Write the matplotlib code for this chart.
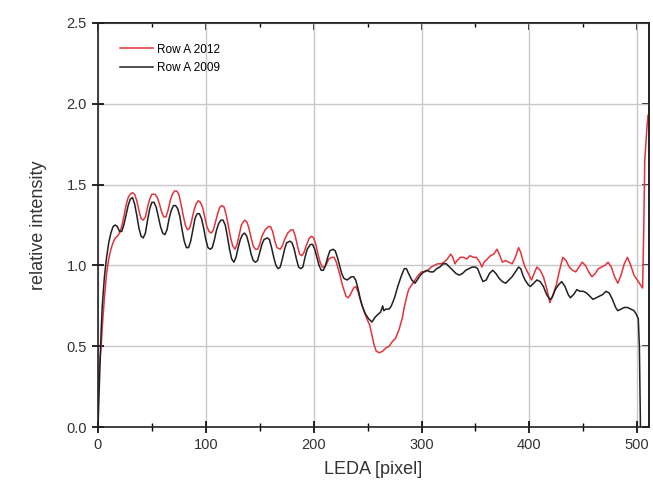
import matplotlib
matplotlib.use("Agg")
import matplotlib.pyplot as plt
from matplotlib.ticker import MultipleLocator, FormatStrFormatter, NullFormatter

plt.rcParams['font.family'] = ['Liberation Sans', 'DejaVu Sans']

# Row A 2009 (black)
x_2009 = [0, 1, 2, 3, 4, 6, 8, 10, 12, 14, 16, 18, 20, 22, 24, 26, 28, 30, 32, 34, 36, 38, 40, 42, 44, 46, 48,
          50, 52, 54, 56, 58, 60, 62, 64, 66, 68, 70, 72, 74, 76, 78, 80, 82, 84, 86, 88, 90, 92, 94, 96, 98,
          100, 102, 104, 106, 108, 110, 112, 114, 116, 118, 120, 122, 124, 126, 128, 130, 132, 134, 136, 138,
          140, 142, 144, 146, 148, 150, 152, 154, 157, 159, 161, 163, 165, 167, 169, 171, 173, 175, 178, 180,
          182, 184, 186, 188, 190, 192, 194, 197, 199, 201, 203, 205, 207, 209, 211, 213, 215, 218, 220, 222,
          224, 226, 228, 231, 233, 235, 237, 239, 241, 243, 245, 248, 251, 254, 257, 260, 262, 264, 265, 267,
          270, 272, 275, 278, 281, 284, 286, 288, 291, 294, 296, 299, 302, 305, 308, 311, 314, 317, 320, 323,
          326, 329, 332, 335, 338, 341, 344, 347, 350, 352, 355, 357, 360, 363, 366, 369, 372, 375, 378, 381,
          384, 387, 390, 392, 394, 396, 399, 401, 404, 407, 410, 413, 416, 419, 421, 424, 427, 430, 433, 436,
          438, 441, 444, 447, 450, 453, 456, 459, 462, 465, 468, 471, 474, 477, 480, 482, 485, 488, 491, 494,
          497, 499, 501, 502, 503]
y_2009 = [0.0, 0.2, 0.42, 0.6, 0.75, 0.93, 1.05, 1.14, 1.2, 1.24, 1.25, 1.24, 1.21, 1.21, 1.25, 1.31, 1.37, 1.41,
          1.42, 1.38, 1.31, 1.23, 1.18, 1.17, 1.2, 1.28, 1.35, 1.39, 1.39, 1.36, 1.3, 1.24, 1.2, 1.19, 1.22,
          1.29, 1.34, 1.37, 1.37, 1.35, 1.3, 1.22, 1.15, 1.11, 1.11, 1.15, 1.22, 1.29, 1.32, 1.32, 1.29, 1.23,
          1.16, 1.11, 1.10, 1.11, 1.16, 1.22, 1.26, 1.28, 1.28, 1.25, 1.18, 1.1, 1.04, 1.02, 1.05, 1.11, 1.16,
          1.19, 1.2, 1.18, 1.13, 1.07, 1.03, 1.02, 1.03, 1.08, 1.13, 1.16, 1.17, 1.16, 1.11, 1.05, 1.0, 0.98,
          0.99, 1.04, 1.1, 1.14, 1.15, 1.14, 1.1, 1.04, 0.99, 0.98, 0.99, 1.05, 1.1, 1.13, 1.13, 1.1, 1.05,
          1.0, 0.97, 0.97, 1.0, 1.05, 1.09, 1.1, 1.09, 1.05, 1.0, 0.95, 0.92, 0.91, 0.92, 0.93, 0.93, 0.91,
          0.86, 0.8, 0.75, 0.7, 0.67, 0.65, 0.68, 0.7, 0.71, 0.75, 0.72, 0.73, 0.73, 0.75, 0.8, 0.87, 0.93,
          0.98, 0.98, 0.95, 0.91, 0.89, 0.91, 0.94, 0.96, 0.97, 0.96, 0.96, 0.98, 0.99, 1.01, 1.01, 0.99,
          0.97, 0.95, 0.94, 0.95, 0.97, 0.98, 0.99, 0.99, 0.98, 0.93, 0.9, 0.91, 0.95, 0.97, 0.95, 0.92, 0.9,
          0.89, 0.91, 0.93, 0.96, 0.99, 0.98, 0.94, 0.91, 0.88, 0.87, 0.89, 0.91, 0.9, 0.87, 0.82, 0.79, 0.8,
          0.85, 0.88, 0.9, 0.87, 0.82, 0.8, 0.82, 0.85, 0.84, 0.84, 0.83, 0.81, 0.79, 0.8, 0.81, 0.82, 0.84,
          0.83, 0.79, 0.74, 0.72, 0.73, 0.74, 0.74, 0.73, 0.72, 0.7, 0.67, 0.5, 0.0]

# Row A 2012 (red)
x_2012 = [0, 1, 2, 3, 4, 6, 8, 10, 12, 14, 16, 18, 20, 22, 24, 26, 28, 30, 32, 34, 36, 38, 40, 42, 44, 46, 48,
          50, 53, 55, 57, 59, 61, 63, 65, 67, 69, 71, 73, 75, 77, 79, 81, 83, 85, 87, 89, 91, 93, 95, 97, 99,
          101, 103, 105, 107, 109, 111, 113, 115, 117, 119, 121, 123, 125, 127, 129, 131, 133, 136, 138, 140,
          142, 144, 146, 148, 150, 152, 155, 158, 160, 162, 164, 166, 169, 171, 173, 176, 179, 181, 183, 185,
          187, 189, 191, 193, 196, 198, 200, 202, 204, 206, 208, 210, 212, 214, 217, 219, 221, 224, 227, 230,
          232, 234, 237, 239, 241, 244, 247, 250, 252, 254, 256, 258, 261, 264, 267, 270, 273, 276, 279, 282,
          284, 286, 288, 291, 294, 297, 300, 303, 306, 309, 312, 315, 318, 321, 324, 327, 329, 331, 333, 336,
          339, 342, 345, 348, 351, 354, 356, 358, 361, 364, 367, 370, 372, 375, 378, 381, 384, 387, 390, 392,
          394, 396, 399, 402, 405, 407, 410, 413, 416, 419, 422, 425, 428, 431, 434, 437, 440, 443, 446, 449,
          452, 455, 458, 461, 464, 467, 470, 473, 476, 479, 482, 485, 488, 491, 494, 497, 500, 503, 505, 506,
          507, 509, 510, 511]
y_2012 = [0.28, 0.36, 0.43, 0.5, 0.62, 0.8, 0.95, 1.04, 1.1, 1.14, 1.17, 1.18, 1.2, 1.24, 1.3, 1.37, 1.42, 1.44,
          1.45, 1.44, 1.4, 1.34, 1.29, 1.28, 1.3, 1.36, 1.41, 1.44, 1.44, 1.42, 1.38, 1.33, 1.3, 1.3, 1.34,
          1.4, 1.44, 1.46, 1.46, 1.44, 1.38, 1.31, 1.25, 1.22, 1.23, 1.28, 1.34, 1.38, 1.4, 1.39, 1.36, 1.3,
          1.24, 1.21, 1.2, 1.22, 1.27, 1.32, 1.36, 1.37, 1.36, 1.31, 1.24, 1.17, 1.12, 1.1, 1.13, 1.19, 1.25,
          1.28, 1.27, 1.23, 1.17, 1.12, 1.1, 1.1, 1.13, 1.18, 1.22, 1.24, 1.24, 1.21, 1.15, 1.11, 1.1, 1.12,
          1.16, 1.2, 1.22, 1.22, 1.18, 1.12, 1.07, 1.06, 1.08, 1.12, 1.17, 1.18, 1.17, 1.13, 1.07, 1.02, 0.99,
          0.99, 1.01, 1.04, 1.05, 1.05, 1.02, 0.95, 0.87, 0.81, 0.8, 0.82, 0.86, 0.87, 0.84, 0.77, 0.71, 0.66,
          0.63, 0.57, 0.51, 0.47, 0.46, 0.47, 0.49, 0.5, 0.53, 0.55, 0.6, 0.67, 0.74, 0.8, 0.85, 0.88, 0.91,
          0.94, 0.96, 0.96, 0.97, 0.99, 1.0, 1.01, 1.01, 1.02, 1.04, 1.07, 1.05, 1.01, 1.03, 1.05, 1.05, 1.04,
          1.06, 1.05, 1.05, 1.02, 0.99, 1.02, 1.04, 1.06, 1.07, 1.1, 1.07, 1.02, 1.03, 1.02, 1.01, 1.05, 1.11,
          1.08, 1.03, 0.99, 0.95, 0.91, 0.96, 0.99, 0.97, 0.93, 0.86, 0.77, 0.82, 0.88, 0.97, 1.05, 1.03,
          0.99, 0.97, 0.96, 0.99, 1.02, 1.0, 0.96, 0.93, 0.95, 0.98, 0.99, 1.0, 1.02, 0.99, 0.93, 0.89, 0.94,
          1.01, 1.05, 1.0, 0.94, 0.91, 0.88, 0.86, 1.2, 1.65, 1.85, 1.93, 1.88]

fig = plt.figure(figsize=(6.53, 4.95), dpi=100)
ax = fig.add_axes([0.150, 0.137, 0.844, 0.817])

ax.plot(x_2012, y_2012, color='#e3343c', lw=1.1, label='Row A 2012')
ax.plot(x_2009, y_2009, color='#202020', lw=1.1, label='Row A 2009')

ax.set_xlim(0, 511)
ax.set_ylim(0, 2.5)
ax.xaxis.set_major_locator(MultipleLocator(100))
ax.xaxis.set_minor_locator(MultipleLocator(50))
ax.yaxis.set_major_locator(MultipleLocator(0.5))
ax.yaxis.set_major_formatter(FormatStrFormatter('%.1f'))

ax.grid(True, which='major', color='#c8c8c8', lw=1)
ax.set_axisbelow(True)

# left / bottom: ticks crossing the axis
ax.tick_params(axis='both', which='major', direction='inout', length=9, width=1.2,
               labelsize=10.5, labelcolor='#333333')
ax.tick_params(axis='both', which='minor', direction='inout', length=6, width=1.0)

# top / right: inward ticks only
top = ax.secondary_xaxis('top')
top.xaxis.set_major_locator(MultipleLocator(100))
top.xaxis.set_minor_locator(MultipleLocator(50))
top.xaxis.set_major_formatter(NullFormatter())
top.tick_params(which='major', direction='in', length=5, width=1.2)
top.tick_params(which='minor', direction='in', length=3, width=1.0)
right = ax.secondary_yaxis('right')
right.yaxis.set_major_locator(MultipleLocator(0.5))
right.yaxis.set_major_formatter(NullFormatter())
right.tick_params(which='major', direction='in', length=5, width=1.2)

for s in list(ax.spines.values()) + list(top.spines.values()) + list(right.spines.values()):
    s.set_linewidth(1.2)
    s.set_color('#222222')

ax.set_xlabel('LEDA [pixel]', fontsize=13, color='#333333', labelpad=6)
ax.set_ylabel('relative intensity', fontsize=13, color='#333333', labelpad=14)

ax.legend(loc='upper left', bbox_to_anchor=(0.02, 0.975), frameon=False, fontsize=8.5,
          handlelength=2.8, handletextpad=0.4, labelspacing=0.55)

fig.savefig('out.png', dpi=100)
